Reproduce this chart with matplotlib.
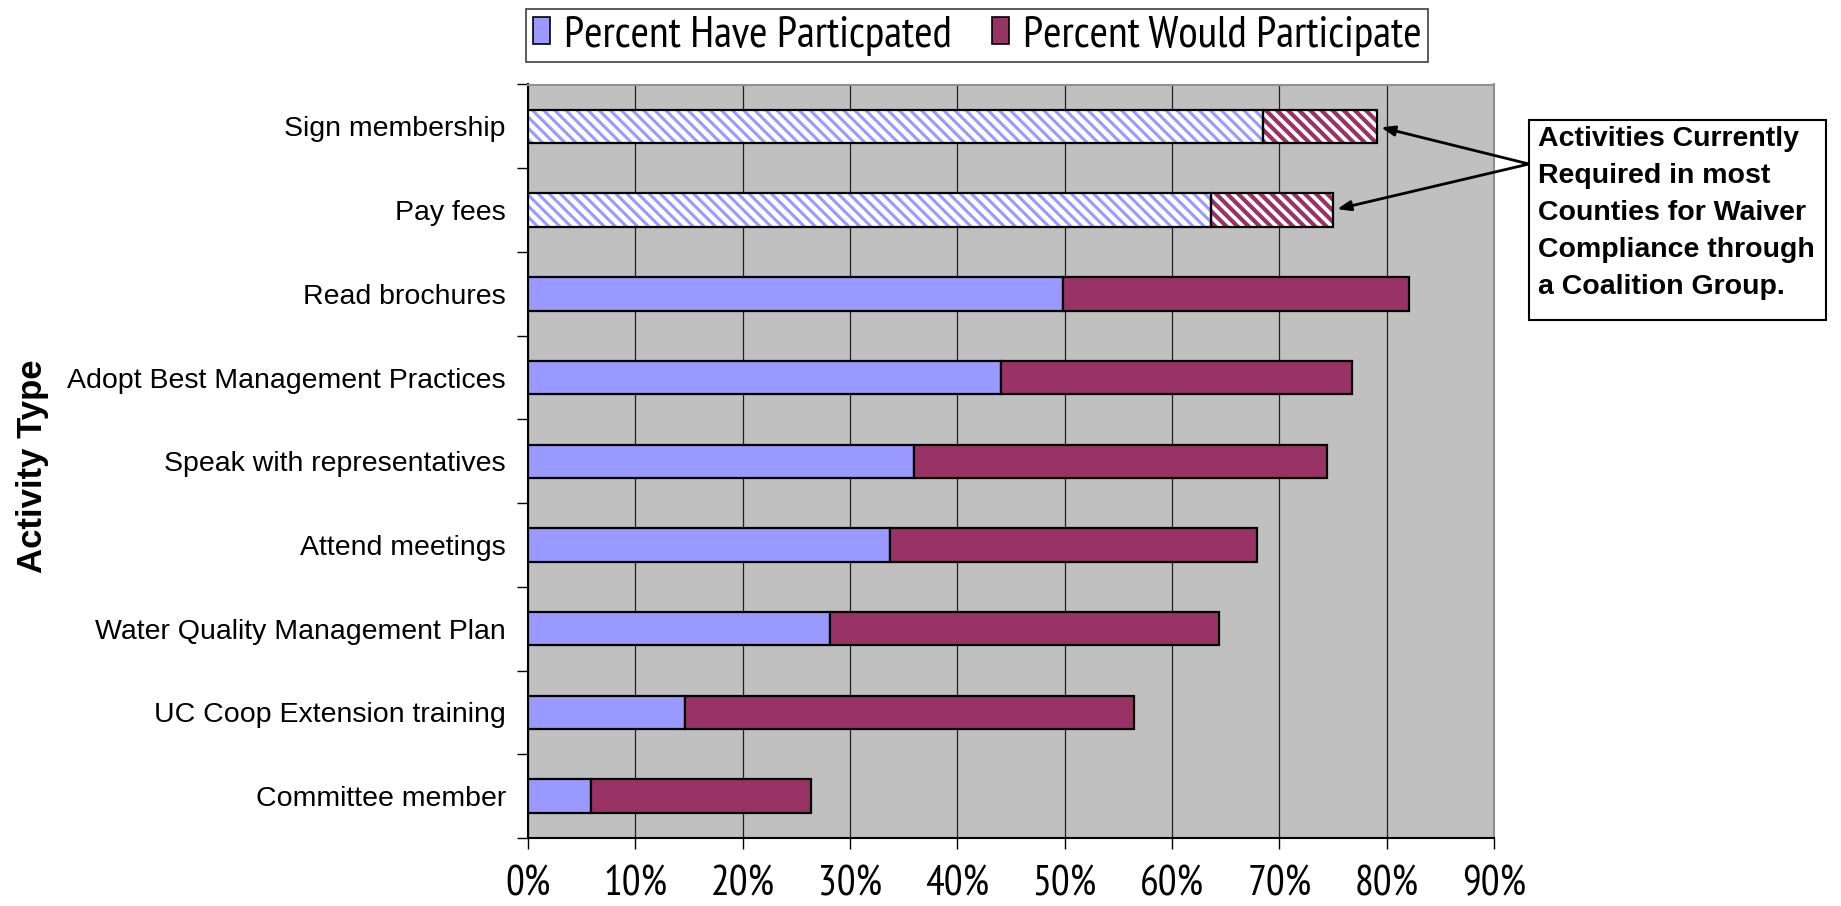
import matplotlib
matplotlib.use('Agg')
import numpy as np
import matplotlib.pyplot as plt
from matplotlib.patches import Rectangle, Patch

# Survey results, in percent of respondents
activities = ['Sign membership', 'Pay fees', 'Read brochures', 'Adopt Best Management Practices',
              'Speak with representatives', 'Attend meetings', 'Water Quality Management Plan',
              'UC Coop Extension training', 'Committee member']
have_participated = [68.5, 63.6, 49.8, 44.1, 36.0, 33.7, 28.1, 14.6, 5.9]
would_participate = [10.6, 11.4, 32.3, 32.7, 38.4, 34.2, 36.3, 41.9, 20.5]
required = [True, True, False, False, False, False, False, False, False]
x_ticks = [0, 10, 20, 30, 40, 50, 60, 70, 80, 90]
legend_labels = ['Percent Have Particpated', 'Percent Would Participate']
note_text = 'Activities Currently\nRequired in most\nCounties for Waiver\nCompliance through\na Coalition Group.'

blue = '#9999FF'
purple = '#993366'
hatch = '\\\\\\'
narrow = ['Liberation Sans Narrow', 'Arial Narrow', 'PT Sans Narrow', 'Roboto Condensed',
          'Archivo Narrow', 'Sofia Sans Condensed', 'Liberation Sans']

plt.rcParams['font.family'] = ['Liberation Sans', 'DejaVu Sans']

W, H = 1841, 906
fig = plt.figure(figsize=(W / 100, H / 100), dpi=100)
ax = fig.add_axes([528 / W, 1 - 838 / H, (1494 - 528) / W, (838 - 84.5) / H])
ax.set_facecolor('#C0C0C0')

y = np.arange(len(activities))
have = np.array(have_participated) / 100
would = np.array(would_participate) / 100
bar_h = 0.4

for i in range(len(activities)):
    if required[i]:
        with plt.rc_context({'hatch.linewidth': 2.2}):
            ax.barh(y[i], have[i], height=bar_h, facecolor='white', edgecolor=blue,
                    linewidth=0, hatch=hatch, zorder=3)
        with plt.rc_context({'hatch.linewidth': 3.0}):
            ax.barh(y[i], would[i], left=have[i], height=bar_h, facecolor='white',
                    edgecolor=purple, linewidth=0, hatch=hatch, zorder=3)
        ax.barh(y[i], have[i], height=bar_h, fill=False, edgecolor='black', linewidth=1.6, zorder=4)
        ax.barh(y[i], would[i], left=have[i], height=bar_h, fill=False, edgecolor='black',
                linewidth=1.6, zorder=4)
    else:
        ax.barh(y[i], have[i], height=bar_h, color=blue, edgecolor='black', linewidth=1.6, zorder=3)
        ax.barh(y[i], would[i], left=have[i], height=bar_h, color=purple, edgecolor='black',
                linewidth=1.6, zorder=3)

ax.set_xlim(0, 0.9)
ax.set_ylim(len(activities) - 0.5, -0.5)

ax.set_xticks(np.array(x_ticks) / 100)
ax.set_xticklabels([f'{t}%' for t in x_ticks], family=narrow, fontsize=30)
ax.tick_params(axis='x', length=8, width=1, pad=12, direction='out')
ax.xaxis.grid(True, color='#202020', linewidth=0.9, zorder=1)
ax.set_axisbelow(True)

ax.set_yticks(y)
ax.set_yticklabels(activities, fontsize=20.5)
ax.tick_params(axis='y', which='major', length=0, pad=16)
ax.set_yticks(np.arange(-0.5, len(activities)), minor=True)
ax.tick_params(axis='y', which='minor', length=8, width=1, direction='out')

for side in ['top', 'right']:
    ax.spines[side].set_color('#909090')
    ax.spines[side].set_linewidth(1.5)
for side in ['left', 'bottom']:
    ax.spines[side].set_color('black')
    ax.spines[side].set_linewidth(1.5)

fig.text(33 / W, 1 - 466 / H, 'Activity Type', rotation=90, ha='center', va='center',
         fontsize=25, fontweight='bold')

handles = [Patch(facecolor=blue, edgecolor='black', linewidth=1.2),
           Patch(facecolor=purple, edgecolor='black', linewidth=1.2)]
leg = fig.legend(handles, legend_labels, loc='center', bbox_to_anchor=(977 / W, 1 - 35.5 / H),
                 ncol=2, frameon=True, fancybox=False, edgecolor='#404040', framealpha=1,
                 handlelength=0.4, handleheight=0.55, handletextpad=0.3, columnspacing=0.9,
                 borderpad=0.15, prop={'family': narrow, 'size': 32})
leg.get_frame().set_linewidth(1.2)

# Note box on the right, with arrows to the two required activities
fig.patches.append(Rectangle((1529 / W, 1 - 320 / H), (1826 - 1529) / W, 200 / H,
                             transform=fig.transFigure, facecolor='white', edgecolor='black',
                             linewidth=1.5))
fig.text(1538 / W, 1 - 126 / H, note_text, ha='left', va='top', fontsize=20.5,
         fontweight='bold', linespacing=1.55)

start = (1529 / W, 1 - 164 / H)
for i in range(len(activities)):
    if required[i]:
        ax.annotate('', xy=(have[i] + would[i], y[i]), xycoords='data',
                    xytext=start, textcoords='figure fraction', annotation_clip=False,
                    arrowprops=dict(arrowstyle='-|>,head_length=0.8,head_width=0.3', color='black',
                                    lw=2, shrinkA=0, shrinkB=3))

fig.savefig('out.png', dpi=100)
